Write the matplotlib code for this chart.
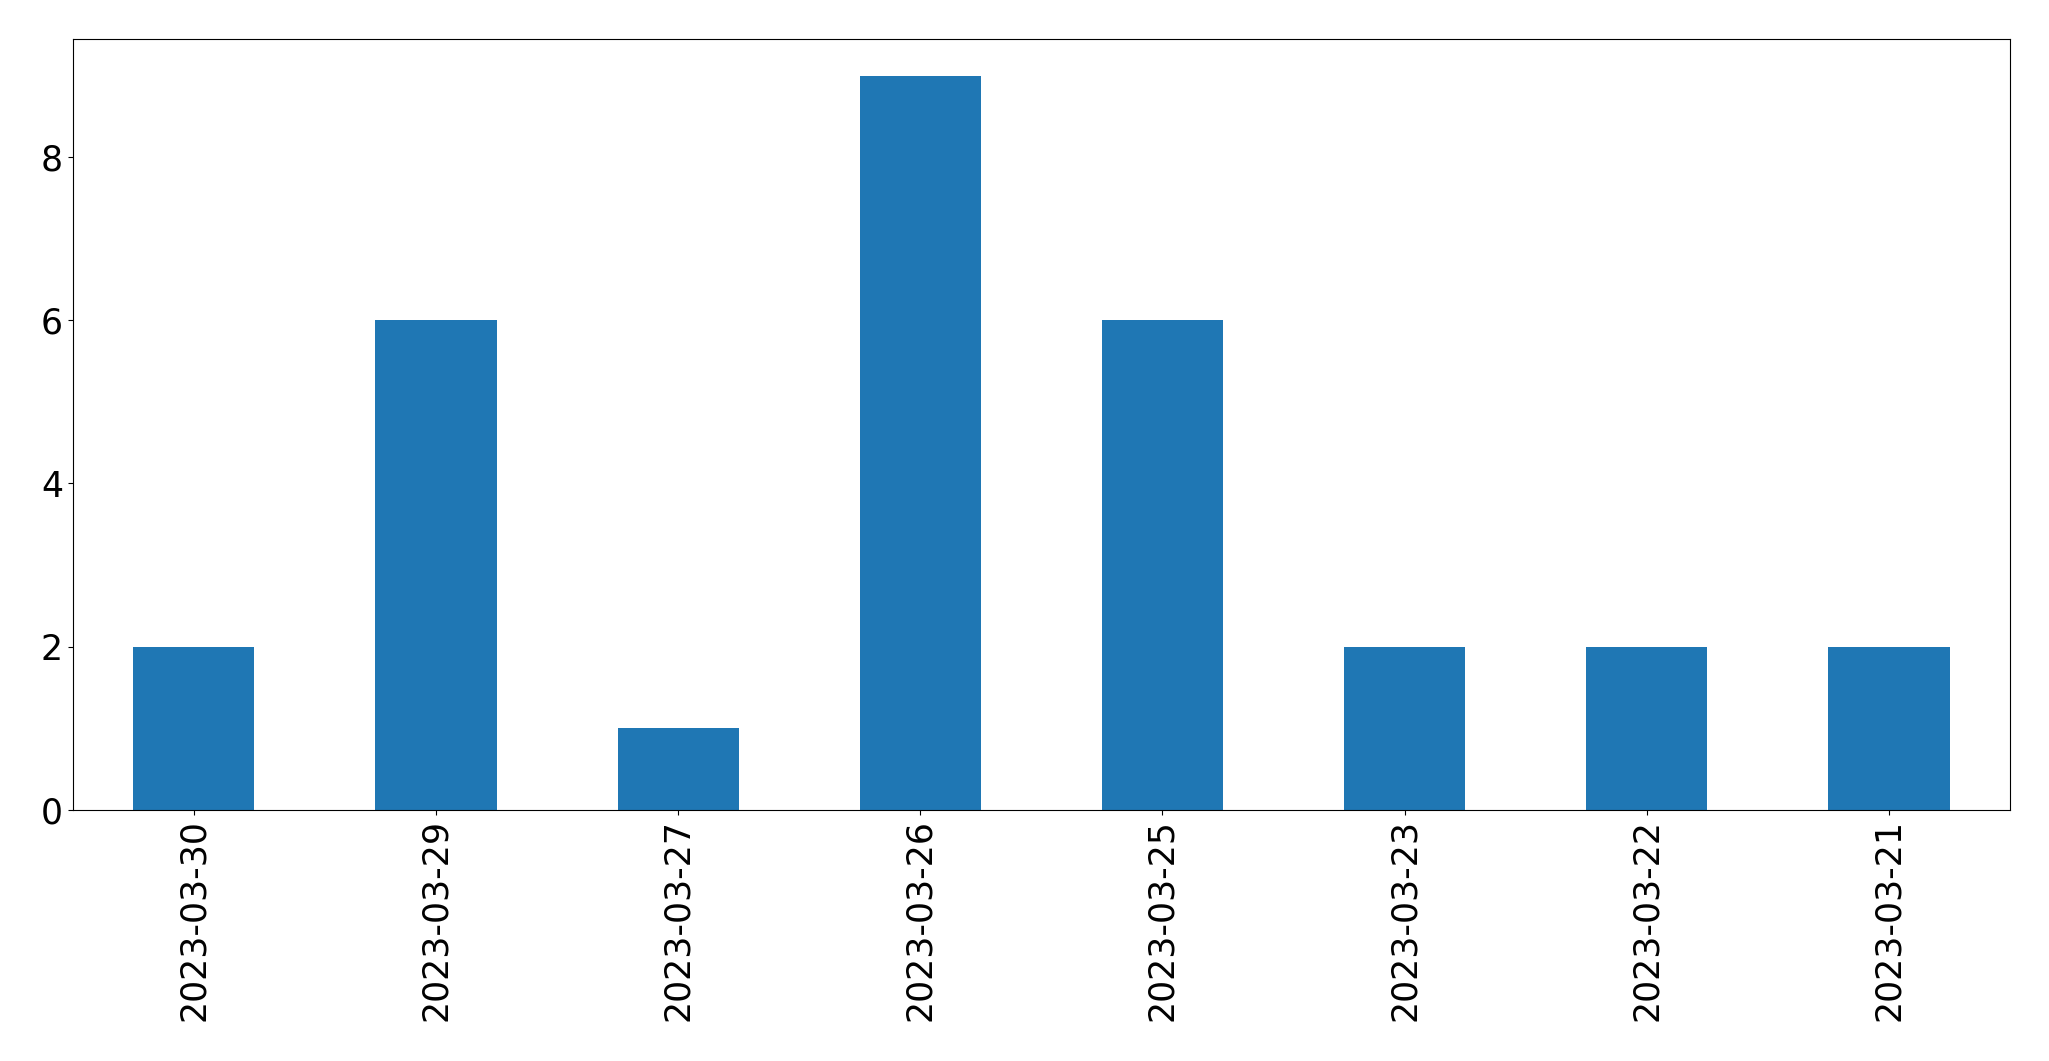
import matplotlib
matplotlib.use("Agg")
import matplotlib.pyplot as plt
import pandas as pd

# dados
datas = ["2023-03-30", "2023-03-29", "2023-03-27", "2023-03-26",
         "2023-03-25", "2023-03-23", "2023-03-22", "2023-03-21"]
contagens = [2, 6, 1, 9, 6, 2, 2, 2]

serie = pd.Series(contagens, index=datas)

fig = plt.figure(figsize=(20.49, 10.61), dpi=100)
ax = fig.add_axes([0.0355, 0.237, 0.9455, 0.726])
serie.plot(kind="bar", ax=ax, color="#1f77b4")
ax.tick_params(axis="both", labelsize=25)
ax.set_yticks([0, 2, 4, 6, 8])

fig.savefig("out.png", dpi=100)
